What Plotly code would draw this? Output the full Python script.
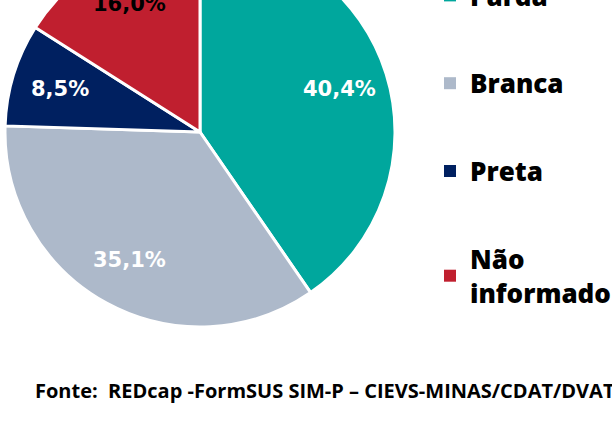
import math
import plotly.graph_objects as go

categories = ["Parda", "Branca", "Preta", "Não<br>informado"]
values = [40.4, 35.1, 8.5, 16.0]
pct_labels = ["40,4%", "35,1%", "8,5%", "16,0%"]
colors = ["#00A79D", "#ADB9CA", "#002060", "#C01F2F"]
label_colors = ["white", "white", "white", "black"]
source = "Fonte:  REDcap -FormSUS SIM-P – CIEVS-MINAS/CDAT/DVAT"

# Figure is larger than the 612x436 window; the page is shifted up so the
# top of the pie and the right end of the legend/footer are cut like the reference.
W, H = 650, 506
SHIFT = 70
CX, CY, R = 200, 132 + SHIFT, 195  # pie centre / radius in figure pixels

fig = go.Figure()
fig.add_trace(go.Pie(
    labels=categories, values=values,
    textinfo="none", sort=False, direction="clockwise", rotation=0,
    marker=dict(colors=colors, line=dict(color="white", width=3)),
    showlegend=False, hoverinfo="label+percent",
    domain=dict(x=[(CX - R) / W, (CX + R) / W], y=[1 - (CY + R) / H, 1 - (CY - R) / H]),
))

# percentage labels placed along each slice's bisector (derived from the values)
total = sum(values)
annotations = []
cum = 0.0
for v, t, c in zip(values, pct_labels, label_colors):
    theta = 2 * math.pi * (cum + v / 2) / total
    cum += v
    px = CX + 0.75 * R * math.sin(theta)
    py = CY - 0.75 * R * math.cos(theta)
    annotations.append(dict(
        text=t, x=px / W, y=1 - py / H, xref="paper", yref="paper",
        xanchor="center", yanchor="middle", showarrow=False,
        font=dict(family="DejaVu Sans", size=21, color=c, weight="bold"),
    ))

annotations.append(dict(
    text=source, x=33 / W, xref="paper", xanchor="left",
    y=1 - 460 / H, yref="paper", yanchor="middle", showarrow=False,
    font=dict(family="Open Sans", size=20, color="black", weight="bold"),
))

for cat, col in zip(categories, colors):
    fig.add_trace(go.Scatter(
        x=[None], y=[None], mode="markers", name=cat,
        marker=dict(symbol="square", size=12, color=col),
        legendgroup=cat, showlegend=True,
    ))

fig.update_layout(
    width=W, height=H,
    margin=dict(l=0, r=0, t=0, b=0),
    paper_bgcolor="white", plot_bgcolor="white",
    xaxis=dict(visible=False), yaxis=dict(visible=False),
    legend=dict(
        x=430 / W, xanchor="left", y=1 - 42 / H, yanchor="top",
        font=dict(family="Open Sans", size=26, color="black", weight=800),
        tracegroupgap=51, bgcolor="rgba(0,0,0,0)",
    ),
    annotations=annotations,
)

fig.write_html(
    "out.html",
    post_script="document.body.style.margin='0';document.body.style.overflow='hidden';"
                "var gd=document.getElementById('{plot_id}');gd.style.marginTop='-" + str(SHIFT) + "px';",
)
